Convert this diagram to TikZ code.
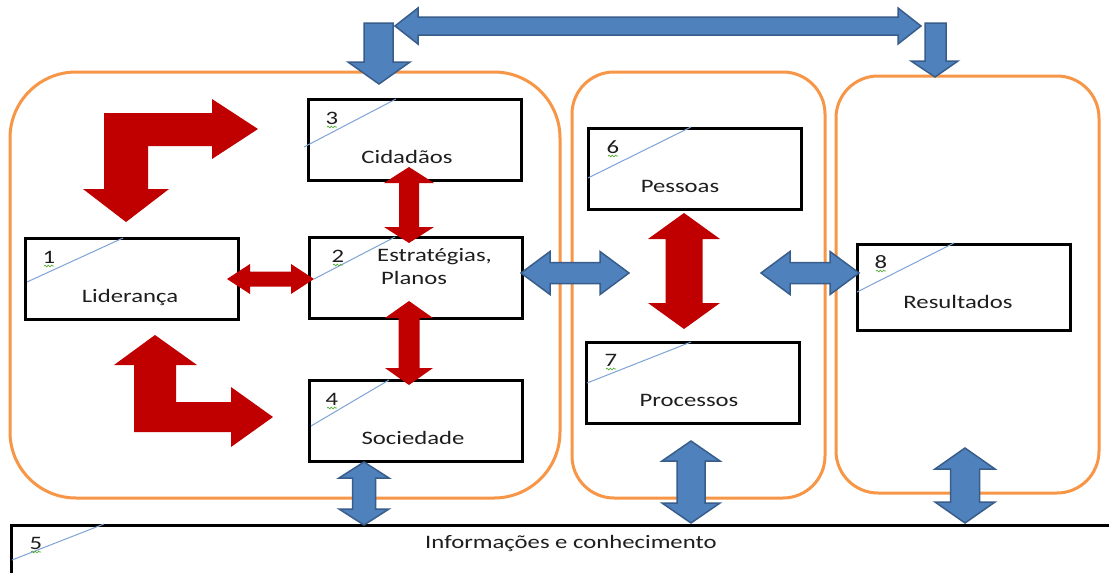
\documentclass[tikz,border=0pt]{standalone}
\usepackage{fontspec}
\setmainfont{Carlito}
\usetikzlibrary{decorations.pathmorphing}
\definecolor{bred}{HTML}{C00000}
\definecolor{bblue}{HTML}{4F81BD}
\definecolor{bbluedk}{HTML}{385D8A}
\definecolor{orng}{HTML}{F79646}
\definecolor{diagc}{HTML}{7FA3D6}
\definecolor{sqc}{HTML}{5AAF3C}
\definecolor{txtc}{HTML}{1E1E1E}
% vertical double block arrow: style, x, top tip, bottom tip, shaft half, head half, head length
\newcommand{\VDbl}[7]{\path[#1] (#2,#3) -- (#2+#6,#3+#7) -- (#2+#5,#3+#7) -- (#2+#5,#4-#7) -- (#2+#6,#4-#7) -- (#2,#4) -- (#2-#6,#4-#7) -- (#2-#5,#4-#7) -- (#2-#5,#3+#7) -- (#2-#6,#3+#7) -- cycle;}
% horizontal double block arrow: style, y, left tip, right tip, shaft half, head half, head length
\newcommand{\HDbl}[7]{\path[#1] (#3,#2) -- (#3+#7,#2-#6) -- (#3+#7,#2-#5) -- (#4-#7,#2-#5) -- (#4-#7,#2-#6) -- (#4,#2) -- (#4-#7,#2+#6) -- (#4-#7,#2+#5) -- (#3+#7,#2+#5) -- (#3+#7,#2+#6) -- cycle;}
\newcommand{\wide}[1]{\scalebox{1.3}[1]{#1}}
\newcommand{\squig}[2]{\draw[squigline] (#1-5,#2+3) -- (#1+5,#2+3);}
\tikzset{
  cont/.style={draw=orng, line width=3pt},
  box/.style={draw=black, line width=2.6pt, fill=white, anchor=north west, minimum width=213pt, minimum height=81pt, inner sep=0pt},
  diagline/.style={draw=diagc, line width=1pt},
  lbl/.style={inner sep=0pt, text=txtc, font=\fontsize{19}{22}\selectfont},
  rarrow/.style={fill=bred},
  barrow/.style={fill=bblue, draw=bbluedk, line width=1.5pt, line join=miter},
  squigline/.style={draw=sqc, line width=0.7pt, decorate, decoration={snake, amplitude=0.9pt, segment length=3.3pt}}
}
\begin{document}
\begin{tikzpicture}[x=1pt, y=-1pt]
\useasboundingbox (0,0) rectangle (1109,573);
\fill[white] (0,0) rectangle (1109,573);

% containers
\draw[cont, rounded corners=66pt] (10,72) rectangle (560,498);
\draw[cont, rounded corners=42pt] (572,72) rectangle (825,498);
\draw[cont, rounded corners=42pt] (836,76) rectangle (1099,493);

% boxes
\node[box] (b1) at (24,237) {};
\node[box] (b2) at (308,236) {};
\node[box] (b3) at (307,98) {};
\node[box] (b4) at (308,379) {};
\node[box, minimum width=1110pt, minimum height=70pt] (b5) at (10,524) {};
\node[box] (b6) at (587,127) {};
\node[box] (b7) at (585,341) {};
\node[box, minimum height=86pt] (b8) at (856,243) {};

% diagonal lines
\draw[diagline] (27,282) -- (123,238);
\draw[diagline] (314,279) -- (395,237);
\draw[diagline] (304,147) -- (396,99);
\draw[diagline] (311,426) -- (389,380);
\draw[diagline] (12,560) -- (104,524);
\draw[diagline] (588,178) -- (691,127);
\draw[diagline] (587,383) -- (691,342);
\draw[diagline] (857,292) -- (954,243);

% numbers
\node[lbl, anchor=base] (n1) at (49,263) {\wide{1}};
\node[lbl, anchor=base] (n2) at (338,262) {\wide{2}};
\node[lbl, anchor=base] (n3) at (332,124) {\wide{3}};
\node[lbl, anchor=base] (n4) at (332,405) {\wide{4}};
\node[lbl, anchor=base] (n5) at (36,549) {\wide{5}};
\node[lbl, anchor=base] (n6) at (613,153) {\wide{6}};
\node[lbl, anchor=base] (n7) at (611,366) {\wide{7}};
\node[lbl, anchor=base] (n8) at (881,268) {\wide{8}};
\squig{49}{263}
\squig{338}{262}
\squig{332}{124}
\squig{332}{405}
\squig{36}{549}
\squig{613}{153}
\squig{611}{366}
\squig{881}{268}

% labels
\node[lbl, anchor=base] (t1) at (130,302) {\wide{Liderança}};
\node[lbl, anchor=base west] (t2a) at (377,261) {\wide{Estratégias,}};
\node[lbl, anchor=base west] (t2b) at (381,284) {\wide{Planos}};
\node[lbl, anchor=base] (t3) at (407,163) {\wide{Cidadãos}};
\node[lbl, anchor=base] (t4) at (413,444) {\wide{Sociedade}};
\node[lbl, anchor=base west] (t5) at (425,548) {\wide{Informações e conhecimento}};
\node[lbl, anchor=base] (t6) at (680,192) {\wide{Pessoas}};
\node[lbl, anchor=base] (t7) at (689,406) {\wide{Processos}};
\node[lbl, anchor=base] (t8) at (958,308) {\wide{Resultados}};

% red L-shaped arrows
\fill[bred] (258,129) -- (212,99) -- (212,113) -- (104,113) -- (104,189) -- (83,189) -- (126,222) -- (169,189) -- (148,189) -- (148,146) -- (212,146) -- (212,159) -- cycle;
\fill[bred] (155,335) -- (197,365) -- (176,365) -- (176,402) -- (231,402) -- (231,387) -- (273,417) -- (231,447) -- (231,432) -- (134,432) -- (134,365) -- (114,365) -- cycle;

% red double arrows
\VDbl{rarrow}{409}{167}{243}{10}{25}{16}
\VDbl{rarrow}{409}{301}{385}{10.5}{24}{17}
\HDbl{rarrow}{279}{227}{314}{7.5}{15}{23}
\VDbl{rarrow}{684}{213}{329}{18.5}{36}{26}

% blue top connector
\path[barrow] (364,23) -- (393,23) -- (393,62) -- (410,62) -- (379,84) -- (348,62) -- (364,62) -- cycle;
\path[barrow] (925,23) -- (946,23) -- (946,61) -- (958,61) -- (935,77) -- (911,61) -- (925,61) -- cycle;
\HDbl{barrow}{26}{395}{921}{9}{18}{23}

% blue double arrows
\HDbl{barrow}{273}{521}{629}{10.5}{21.5}{29}
\HDbl{barrow}{273}{761}{859}{10.5}{21.5}{29}
\VDbl{barrow}{364}{462}{525}{11.5}{25}{16}
\VDbl{barrow}{691}{441}{523}{14}{29}{20}
\VDbl{barrow}{965}{448}{523}{14.5}{30}{21}
\end{tikzpicture}
\end{document}
